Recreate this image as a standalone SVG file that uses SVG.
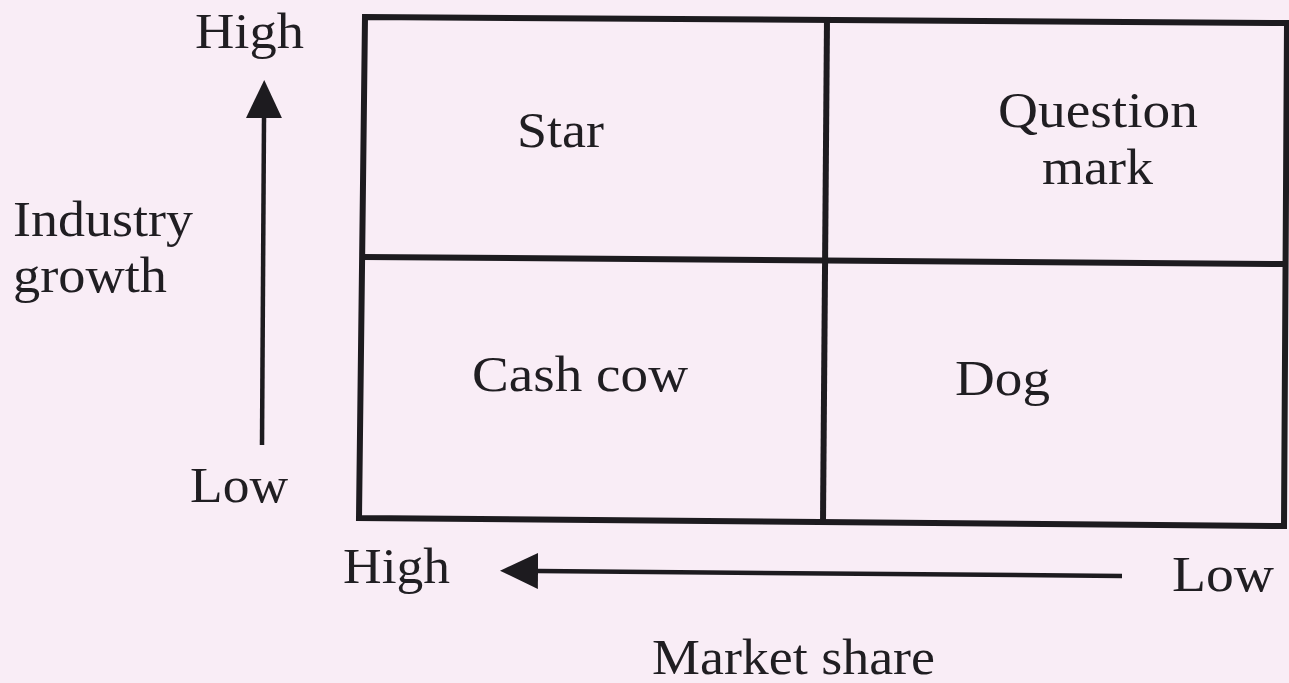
<svg xmlns="http://www.w3.org/2000/svg" width="1289" height="683" viewBox="0 0 1289 683">
<style>
.bg{fill:#f9edf6}
.grid{fill:none;stroke:#1d1b1f;stroke-width:6;stroke-linejoin:miter}
.axis{fill:none;stroke:#1d1b1f;stroke-width:4.5}
text{font-family:"Liberation Serif","Times New Roman",serif;font-size:51px;fill:#201e22}
</style>
<defs>
<marker id="head" markerUnits="userSpaceOnUse" viewBox="0 0 38 36" markerWidth="38" markerHeight="36" refX="0" refY="18" orient="auto">
<path d="M0,0 L38,18 L0,36 Z" fill="#1d1b1f"/>
</marker>
</defs>
<rect class="bg" x="0" y="0" width="1289" height="683"/>
<g id="matrix">
<path class="grid" d="M365,17 L1287,23 L1284,526 L359,518 Z"/>
<path class="grid" d="M363,257 L1286,264"/>
<path class="grid" d="M827,19 L823,522"/>
</g>
<g id="star"><text x="517" y="147" textLength="87" lengthAdjust="spacingAndGlyphs">Star</text></g>
<g id="question-mark">
<text x="998" y="127" textLength="200" lengthAdjust="spacingAndGlyphs">Question</text>
<text x="1042" y="184" textLength="111" lengthAdjust="spacingAndGlyphs">mark</text>
</g>
<g id="cash-cow"><text x="472" y="391" textLength="216" lengthAdjust="spacingAndGlyphs">Cash cow</text></g>
<g id="dog"><text x="955" y="395" textLength="95" lengthAdjust="spacingAndGlyphs">Dog</text></g>
<g id="y-axis-labels">
<text x="195" y="48" textLength="109" lengthAdjust="spacingAndGlyphs">High</text>
<text x="13" y="236" textLength="180" lengthAdjust="spacingAndGlyphs">Industry</text>
<text x="13" y="292" textLength="154" lengthAdjust="spacingAndGlyphs">growth</text>
<text x="190" y="502" textLength="98" lengthAdjust="spacingAndGlyphs">Low</text>
</g>
<g id="x-axis-labels">
<text x="343" y="583" textLength="107" lengthAdjust="spacingAndGlyphs">High</text>
<text x="1172" y="591" textLength="102" lengthAdjust="spacingAndGlyphs">Low</text>
<text x="652" y="674" textLength="283" lengthAdjust="spacingAndGlyphs">Market share</text>
</g>
<g id="connectors">
<path class="axis" d="M262,445 L264,118" marker-end="url(#head)"/>
<path class="axis" d="M1122,576 L538,571" marker-end="url(#head)"/>
</g>
</svg>
